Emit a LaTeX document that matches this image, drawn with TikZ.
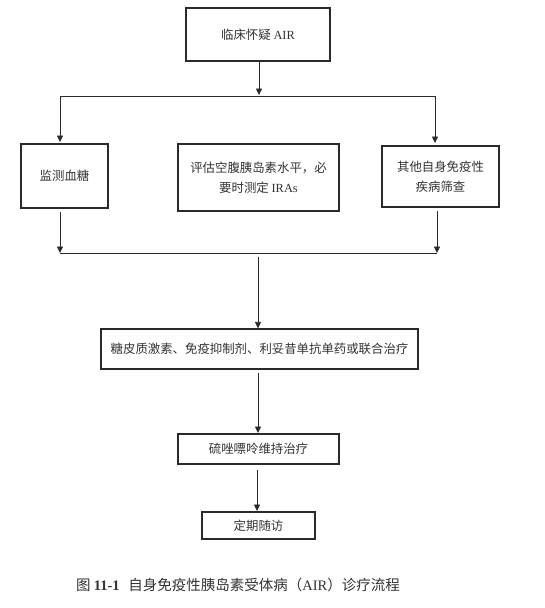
\documentclass[tikz,border=0pt]{standalone}
\usepackage{fontspec}
\setmainfont{Liberation Serif}
\newfontfamily\cjk{Noto Sans CJK SC}
\usetikzlibrary{arrows.meta}
\definecolor{ink}{HTML}{2A2A2A}
\definecolor{txt}{HTML}{333333}
\begin{document}
\begin{tikzpicture}[x=1pt,y=-1pt,
  box/.style={draw=ink,line width=1.2pt,inner sep=0pt,align=center,text=txt,
    font=\cjk\fontsize{12.4}{20}\selectfont},
  conn/.style={draw=ink,line width=0.8pt},
  arr/.style={conn,-{Triangle[length=6.5pt,width=6pt]}}]
\useasboundingbox[fill=white] (0,0) rectangle (544,608);
% boxes
\node[box,minimum width=144pt,minimum height=53pt] (top) at (258,34.5) {临床怀疑 {\rmfamily AIR}};
\node[box,minimum width=87pt,minimum height=64pt] (left) at (64.5,176) {监测血糖};
\node[box,minimum width=161pt,minimum height=67pt] (mid) at (258.5,177.5) {评估空腹胰岛素水平，必\\要时测定 {\rmfamily IRAs}};
\node[box,minimum width=117pt,minimum height=61pt] (right) at (440.5,176.5) {其他自身免疫性\\疾病筛查};
\node[box,minimum width=317pt,minimum height=40pt] (treat) at (259.5,349) {糖皮质激素、免疫抑制剂、利妥昔单抗单药或联合治疗};
\node[box,minimum width=161pt,minimum height=30pt] (aza) at (258.5,449) {硫唑嘌呤维持治疗};
\node[box,minimum width=113pt,minimum height=27pt] (fu) at (258.5,525.5) {定期随访};
% coordinates
\coordinate (s1) at (259,95);
\coordinate (h1l) at (60,96);
\coordinate (h1r) at (435,96);
\coordinate (l1e) at (60,142);
\coordinate (r1e) at (435,143);
\coordinate (l2s) at (60,212);
\coordinate (r2s) at (437,211);
\coordinate (h2l) at (60,253);
\coordinate (h2r) at (437,253);
\coordinate (m2s) at (258,257);
% connectors
\draw[arr] (top.south -| s1) -- (s1);
\draw[conn] (h1l) -- (h1r);
\draw[arr] (h1l) -- (l1e);
\draw[arr] (h1r) -- (r1e);
\draw[arr] (l2s) -- (h2l);
\draw[arr] (r2s) -- (h2r);
\draw[conn] (h2l) -- (h2r);
\draw[arr] (m2s) -- (m2s |- treat.north);
\draw[arr] (treat.south -| 258,0) ++(0,3) -- (258,433);
\draw[arr] (aza.south -| 257,0) ++(0,5) -- (257,511);
% caption
\node[text=txt,font=\cjk\fontsize{14.5}{16}\selectfont,inner sep=0pt] (cap) at (238,585)
  {图 {\rmfamily\bfseries 11-1}\hspace{0.6em}自身免疫性胰岛素受体病（{\rmfamily AIR}）诊疗流程};
\end{tikzpicture}
\end{document}
